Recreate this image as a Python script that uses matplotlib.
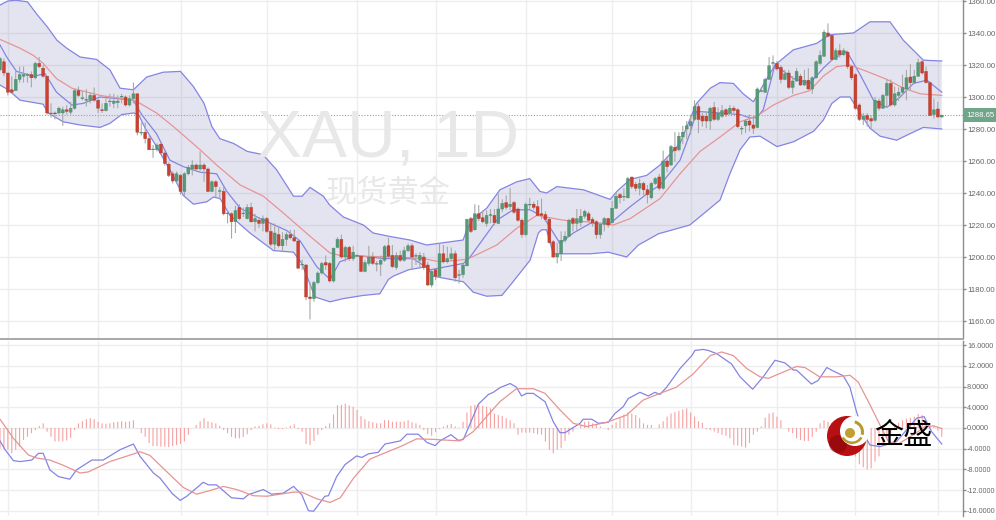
import numpy as np
import matplotlib
matplotlib.use("Agg")
import matplotlib.pyplot as plt
from matplotlib.patches import Circle, Wedge

plt.rcParams['font.family'] = ['Liberation Sans', 'Noto Sans CJK SC', 'DejaVu Sans']

# daily candles
opens = [1317,1322,1315,1304.5,1304,1311,1313,1313.5,1314,1312,1321,1318,1313,1289.5,1290,1290,1290,1292,1290.5,1293,
1304,1299,1298,1298,1301,1298,1292,1291.5,1297,1296,1296.5,1300,1300,1295,1299,1302,1277.5,1278,1274,1267,
1267,1270.5,1265,1258,1252,1247.5,1251,1241,1252,1255,1257.5,1255,1257.5,1255,1241,1247,1241,1241,1227,1227,
1222,1231,1227,1224,1231,1222,1223,1221,1224,1216,1208,1214,1207,1211,1214,1212,1210,1195,1195,1175,
1174,1184,1190,1196.5,1196,1185,1206,1211,1200,1206,1199,1200.5,1200.5,1191,1196,1200,1195.5,1195.5,1198,1207,
1201,1193.5,1201,1198,1204,1207,1200.5,1198,1200,1195,1182.5,1192,1188,1202,1197,1199,1202,1188.5,1189,1194.5,
1224,1217,1227,1224.5,1221,1226,1226,1221,1230,1234,1231.5,1234,1230,1223,1214,1232.5,1233,1231.5,1227,1226.5,
1223.5,1209.5,1200,1202,1210.5,1213,1224,1221,1221.5,1225.5,1227,1223.5,1222,1214,1220.5,1224,1221.5,1230.5,1239,1237.5,
1237,1250,1245.5,1243,1246,1242,1237,1246,1250,1243,1260,1257.5,1268.5,1267,1275,1280,1282,1286,1294,1288,
1288,1285,1293.5,1286,1288,1292,1290,1293,1292,1280,1282,1285,1282.5,1281,1303.5,1303,1311,1321,1321,1318.5,
1311,1315,1306,1310,1313,1307.5,1310.5,1305,1312,1321,1325.5,1340,1338.5,1323.5,1329,1326.5,1328,1319,1314,1295,
1286,1288.5,1286.5,1285.5,1297.5,1293,1301,1308.5,1295,1301,1303,1305,1312.5,1309,1313,1322,1316,1309,1289,1292.5,
1287.5]
closes = [1324,1315,1303,1303,1311,1314,1314,1314,1312,1321,1319,1313,1290,1290,1289.5,1293,1292,1291,1293,1304,
1301,1299.5,1298.5,1301,1298,1293,1291.5,1296,1297.5,1297.5,1297.5,1300.5,1295,1299,1302,1278,1278,1274,1267,1267.5,
1270,1265,1258.5,1251,1247.5,1252,1241,1252,1256,1257.5,1255,1257.5,1255,1241,1247,1244,1241.5,1227,1227.5,1222,
1229,1224,1227.5,1231,1222,1224,1221,1224,1216,1208,1215,1207,1211,1214,1212,1210,1193,1195.5,1175,1174,
1184,1190,1196,1195,1185,1205.5,1211,1200,1206,1199,1203,1201,1191,1196.5,1200,1196,1196,1198,1206.5,1200.5,
1194,1201,1198,1204,1207,1200,1201,1201,1193.5,1182.5,1191,1188,1202,1197,1199,1202,1187,1189,1195,1223.5,
1216,1227,1224,1222,1226,1226.5,1221.5,1230,1233.5,1231,1233,1228,1223,1214,1233,1233,1231,1226,1226,1223.5,
1209,1200,1202,1210.5,1213,1223,1221,1224,1225.5,1228.5,1223,1221.5,1214,1220.5,1224,1220,1230.5,1238,1237,1238,
1249,1244,1243,1246,1242,1239,1246,1249,1243,1260,1256.5,1269,1266.5,1275.5,1278,1282,1284.5,1294,1286,1285,
1285,1293,1286,1290,1291.5,1289,1293,1291.5,1281.5,1280.5,1285,1282.5,1280.5,1305,1304,1311,1319.5,1321.5,1317.5,1311,
1314.5,1306,1310,1316,1307.5,1310.5,1305,1312,1322,1326,1340.5,1338,1323.5,1329,1326.5,1329,1319,1312,1293,1286,
1288,1286,1285,1298,1293,1301,1308.5,1295,1302,1303,1306,1312,1309,1313,1321.5,1315,1309,1288.5,1292,1287.5,
1288.65]
highs = [1325,1324,1315,1313,1317,1319,1319,1315,1316,1322,1325,1320,1313,1296,1291,1294,1294,1295,1297,1305,
1306.5,1304,1305,1303,1306,1299,1296,1299,1302,1302,1301,1302,1301,1301,1309,1302,1284,1284,1276,1270,
1271,1272,1266,1259,1253.5,1253.5,1252,1253,1257.5,1260.5,1258.5,1266,1258.5,1256,1248,1248,1243.5,1244.5,1229,1228,
1232,1233,1231,1233,1234,1227,1225,1226,1225,1221,1221,1219,1215.5,1215.5,1217,1217,1211,1198.5,1195.5,1184,
1185,1191,1197,1201,1197,1206,1212.5,1214,1207,1207,1207,1201.5,1201,1198,1207,1203,1197.5,1201,1207.5,1212,
1207.5,1203,1204,1206.5,1208.5,1208.5,1202.5,1203,1202.5,1197,1192,1193,1208.5,1207.5,1206.5,1206,1204,1192,1196,1224,
1225,1233,1232.5,1229,1229,1230,1230,1239.5,1236,1238.5,1243,1235,1231,1224,1234,1237,1234.5,1235.5,1236.5,1228.5,
1225,1210.5,1209,1216,1216,1224,1225,1230,1230,1229.5,1228.5,1225,1223,1221.5,1225,1224.5,1235,1240.5,1240,1243,
1250,1250,1247,1249,1247,1245,1247,1250,1252,1266.5,1263,1270,1278,1278,1282,1285,1289,1298,1296,1290,
1291,1294,1297,1293.5,1295,1293,1295,1294.5,1293,1282,1286,1289,1288.5,1306,1306,1312,1325,1326,1322.5,1320,
1317,1317,1313,1318,1314.5,1317,1318,1313,1323,1329,1342,1346,1339,1330.5,1333,1330.5,1329,1320,1315,1296,
1290,1290,1288.5,1300,1299,1302,1311,1311,1306.5,1306,1314,1317,1320.5,1317,1324,1323,1319,1309.5,1299,1297,
1289]
lows = [1316,1313,1301,1302,1304,1309,1309,1309,1306,1311,1318,1312,1289,1287,1286,1289,1282,1289,1289,1292,
1300,1298,1294,1296,1297,1290,1290,1291,1294,1293,1293,1296,1294,1294,1296,1276,1276,1271,1267,1262,
1266,1264,1257,1250,1246,1247,1239,1238,1251,1251,1254,1254,1247,1240.5,1240.5,1237.5,1236,1226,1221,1211.5,
1215,1223,1225,1223.5,1221.5,1216,1218,1216,1215,1206.5,1204.5,1206,1203,1207,1211,1209.5,1193,1192,1173,1161,
1172,1183,1189,1192,1184,1184,1205.5,1199,1197,1197.5,1197.5,1200,1190.5,1190.5,1194.5,1195,1191,1188,1197,1199.5,
1193,1192,1197,1197,1203,1192,1195,1193,1192,1182,1181,1185.5,1187,1196,1196,1197.5,1184.5,1183.5,1187,1194,
1215,1216.5,1222.5,1221,1219,1221,1220,1220.5,1228,1229.5,1229.5,1227,1222,1212,1213,1229.5,1229.5,1225.5,1223.5,1222,
1208.5,1199.5,1196,1197.5,1209,1212.5,1216,1216,1219,1224,1222,1219,1211.5,1211.5,1216,1218.5,1221,1230,1233.5,1235,
1236.5,1242.5,1241,1238.5,1238.5,1233.5,1236,1245,1241.5,1242,1253,1257,1259.5,1266,1270.5,1273.5,1276.5,1285,1277.5,1281.5,
1280.5,1279.5,1285,1285,1287,1287.5,1289,1290,1280.5,1276.5,1277.5,1278.5,1277,1280.5,1303,1302.5,1311,1318.5,1316.5,1308.5,
1310.5,1305,1302,1309.5,1307,1307,1304.5,1302,1311.5,1320,1325,1337.5,1322.5,1323,1324.5,1325.5,1317.5,1310.5,1292,1285,
1282.5,1281.5,1280.5,1284.5,1291.5,1292.5,1294,1294,1294,1297.5,1301.5,1298,1304,1308,1312.5,1314,1308.5,1288,1286.5,1287,
1287]

# bollinger and short average, given at the bends of each line
upper_x = [0,2,4,7,9.3,12,14.5,17,20.4,24.6,28,30.6,34,37.4,41.6,46,49.3,52,54,56,59.5,63,67,70.5,74.8,77,79,82.4,84,87.5,92.6,95.1,99,104.5,108.7,118,119,120.6,124,127.4,131.7,135,137.6,139.3,141.9,148.7,155.5,157.2,160.6,164.8,168.2,173.3,177.5,181,183.5,186.9,189.4,192,197.5,202.2,208.1,211.5,217.5,221.7,226.8,230.2,235.3,240]
upper = [1357.5,1360,1360.5,1359.5,1352,1344,1335.5,1330.5,1325,1323.5,1317,1305.5,1304.5,1312.5,1315.5,1316,1306.5,1296,1281.5,1274,1271,1266,1264,1254.5,1238,1238,1243.5,1238,1232.5,1225,1220,1215,1213,1210.6,1207.5,1210.6,1217,1224,1230.4,1242,1247,1249,1241,1240,1244,1242,1236,1241,1248.5,1251,1257.5,1271,1296,1305.5,1309,1308.5,1302,1297,1320,1329.5,1333.5,1339,1340,1347,1347,1335.5,1323,1322.5]
lower_x = [0,2.1,5.1,11,12.3,16.1,20.4,25.5,28,31,34,35.3,37,39.9,43.3,46.7,49.3,52.7,54.4,56.1,58.6,63.7,69.7,74.8,76.9,80.3,84.1,87.5,92.6,96.8,99,100.2,104.1,108.7,110.4,118.1,120.6,124,127.9,130.4,135.1,137.2,138,139.3,141,143.6,150.4,155,159.7,162.7,167.8,175.8,183.5,186,188.6,191.1,193.7,198,202.2,207.3,209.8,212,214.1,216.6,219.2,221.7,224.3,228.5,231,235.3,240]
lower = [1307.5,1304.5,1298,1295.5,1290,1284.5,1282.5,1281,1283.5,1289,1290,1289,1280.5,1269,1254.5,1238.5,1233,1234.5,1237.5,1236.5,1226,1215,1204,1203,1196,1175,1172,1174,1176,1177,1186,1188,1192,1194,1188,1184.5,1178,1175.5,1176,1183.5,1198,1215,1217,1217,1202,1202,1202,1203,1200,1207.5,1214.5,1220,1235.6,1252,1267,1275,1275.5,1269,1272,1278.5,1285.5,1296,1300,1300,1290,1280.5,1275.5,1273,1276,1281,1280]
mid_x = [0,5.1,8.5,11,14.4,18.3,25.5,34,35.7,39.9,44.2,51,55.2,61.2,67.1,72.2,79,84.1,87.5,91.8,101.1,107.9,112.1,119,126.6,131.7,136.8,143.6,149.5,156.3,160.6,168.2,173.3,178.4,183.5,188.6,192.8,197.1,202.2,206.4,209.8,213.2,216.6,220.9,226,230.2,234.5,240]
mid = [1336,1330.5,1326,1321,1311.5,1305.5,1301,1298,1296,1290,1281.5,1267,1257.5,1245,1238,1227.5,1213,1202.5,1200.5,1200.5,1200,1199,1197,1198.5,1207.5,1218,1226,1223,1222,1220,1224,1236.5,1252,1266,1275,1284.5,1288,1295,1301,1304,1313,1319,1320,1316,1311,1305.5,1302,1301]
short_x = [0,1.7,4.2,8.5,11.5,14.4,18.3,21.2,25.5,34,36.1,39.9,43.3,46.7,51,55.2,57.8,61.2,66.3,73.1,76.5,80.7,84.1,86.6,90.9,97.7,105.3,109.6,118.1,119.8,126.6,130.8,135.1,138.5,142.7,146.1,150.4,155.5,160.6,165.7,168.2,170.7,173.3,175.8,177.5,183.5,188.6,191.1,192.8,194.5,197.5,202.2,206.4,209.8,212.4,215.8,219.2,222.6,226,229.4,232.8,236.2,240]
short = [1332.5,1325,1316,1313,1314.5,1303,1295,1296,1300,1298,1289,1277,1260.5,1256.5,1253,1252,1241,1230.5,1224,1216.5,1210,1194,1186,1197,1201,1199,1199,1192,1196,1200,1223,1229.5,1229.5,1225,1208.5,1215,1221,1221,1231.5,1241,1245,1252.5,1260.5,1277,1291,1290,1289,1287,1287,1292,1320,1311.5,1308.5,1318,1324,1328.5,1314,1298,1293.5,1300,1308.5,1310.5,1303]

# macd panel
hist = [-4,-4,-4.2,-4.9,-4.2,-3.6,-2.3,-1.7,-1,-0.4,0.4,0.9,-0.7,-1.7,-2.6,-2.6,-2.6,-2.4,-1.9,-0.4,
0.9,1.3,1.7,1.9,1.7,1.2,0.9,0.8,0.9,1.1,1.2,1.3,1.2,1.3,1.5,-0.1,-1,-1.7,-2.9,-3.5,
-3.5,-3.6,-3.6,-3.7,-3.5,-3.3,-3.1,-2.6,-1.3,0,0.6,1.3,1.9,1.3,1.1,0.9,0.4,-0.4,-1,-1.7,
-2,-2,-1.7,-1.2,-0.4,0.3,0.4,0.7,0.9,0.7,0.1,-0.2,-0.2,0.1,0.4,0.7,-0.2,-0.7,-3.1,-3.3,
-2.5,-1.3,-0.4,0.4,0.9,2.6,4.4,4.5,4.7,4.4,4.1,3.5,2.3,1.7,1.3,1.1,0.9,0.9,1.5,1.5,
1.2,1.2,1.2,1.3,1.5,1.1,0.9,0.6,-0.4,-1.2,-1.5,-0.8,-0.2,0.3,0.6,0.8,0.3,0.1,1.2,3,
4.3,4.5,4.5,4.3,4.1,3.8,2.8,2.5,2.3,1.9,1.5,0.9,-1.3,-0.9,-0.9,-0.9,-1,-1.2,-1.3,-2.6,
-4.2,-4.9,-4.2,-3.9,-2.5,-1.3,-0.7,0,0.6,1.2,1.3,0.9,0.6,0.3,0,-0.4,0.6,1.1,2,2.6,
3,2.8,2.5,1.9,0.9,0.6,0.6,0,0.7,1.3,2.2,2.8,3.1,3.3,3.6,3.8,3,2.2,1.3,1,
-0.2,-0.4,-0.7,-1,-1.3,-1.5,-2,-3.3,-3.4,-3.6,-3.8,-2.9,-1.3,-0.7,0.3,2,2.8,3,2.2,1.5,
0,-0.7,-1,-2,-2.3,-2.5,-2.5,-1.7,-0.7,0.9,1.5,1.2,1,0.5,-0.5,-1.5,-2.5,-4,-5.5,-7,
-7.6,-8,-7.8,-6.5,-5.5,-3,-2,-1,0.5,1,1.5,1.8,2,2.2,2.7,2.5,1.5,0.5,0.3,-0.5,
-1.7]
dif_x = [0,1.3,3.4,5.1,8.1,9.8,11,12.7,14.9,17.8,19.5,23.4,26.3,30.6,34,35.7,39.1,40.8,43.8,45.9,47.6,51.8,53.1,55.2,59,62,63.3,67.1,69.2,72.2,74.8,76.9,78.6,79.9,82.8,83.7,85.8,87.9,90.9,92.2,93.9,96.4,98.1,102,103.7,106.6,108.8,110.9,112.1,114.9,116.8,118.1,121.9,124.5,125.7,127.4,130,131.6,132.9,134.2,135.9,138.9,141,142.7,144,147.8,148.6,150.8,152.5,155,156.7,158.8,160.1,163.1,165.2,166.9,168.2,169.9,173.3,176.3,177.1,179.2,180.5,182.6,186.4,188.6,191.8,194.5,197.5,200,202.2,203,206.8,208.5,210.7,212.4,214.9,216.6,218.3,220,221.7,224.3,228.5,231,233.6,235.5,237.4,240]
dif = [-2.5,-4.2,-6.3,-6.5,-6.2,-4.9,-4.9,-8.1,-9.4,-9.9,-8.1,-6.2,-6.2,-4.2,-3.1,-5.5,-8.7,-9.7,-12.6,-14,-13.2,-10.5,-11,-11,-13.5,-13.7,-12.9,-11.9,-12.8,-12.6,-11.3,-12.9,-16,-16.1,-13.2,-13.1,-9.4,-7.1,-5.4,-5.7,-5,-4.7,-3.1,-2.5,-1.2,-1.2,-2.8,-3.4,-2.5,-1.3,-2.4,-2.2,4.6,6.5,6.9,7.8,8.6,7.9,6.2,6.7,6.7,5.1,1.2,-0.9,-0.9,0.9,1.7,1.7,0.9,1.1,2.8,4.1,5.7,6.9,6.2,6.9,6.5,7.9,11.5,14,15,15.2,15,14.4,12.4,9.9,7.5,9.9,13.1,12.6,11.2,11.2,8.5,9.2,11.7,11,10.1,7.9,3.1,-1,-3.3,-3.6,-2.6,-0.4,1.9,2.2,-0.7,-3.1]
dea_x = [0,3.4,7.2,9.3,12.7,16.1,20.4,22.5,28,35.7,38.2,41.6,46.7,50.1,53.5,56.9,60.3,64.6,68,74.8,76.9,80.7,84.1,86.7,90.1,94.3,102,106.2,110.5,117.2,120.6,127.4,131.6,135.9,138.9,142.7,146.1,149.5,154.6,159.7,163.9,168.2,172.4,176.7,181,183.9,186.9,190.3,193.7,195.8,203,205.1,208.9,213.2,216.6,218.7,221.3,224.7,226.4,228.9,232.8,235.8,237.9,240]
dea = [1.7,-2,-5.2,-5.8,-6.2,-7.2,-8.7,-8.5,-6.5,-4.6,-5.3,-7.8,-11.5,-12.8,-12.1,-11.3,-11.9,-13.1,-13.2,-12.4,-12.4,-13.7,-14.4,-13.5,-9.7,-6,-3.6,-2.1,-2.2,-2.5,-0.7,5.1,7.6,7.6,6.7,3.5,0.9,0.3,1.1,2.5,5.4,6.7,7.9,10.5,14,14.7,14,11.5,9.9,9.6,11.9,11.7,9.9,9.9,10.2,8.9,5.1,-0.1,-2.6,-3.1,-1.3,0.3,0.4,-0.1]

last_price = 1288.65
price_ticks = [1160,1180,1200,1220,1240,1260,1280,1300,1320,1340,1360]
macd_ticks = [-16,-12,-8,-4,0,4,8,12,16]
time_ticks = [2,25,46,68,91,111,134,156,176,198,218,239]

W, H = 996, 520
GRID = '#eeeeee'
BLUE = '#8484e4'
RED = '#e79494'
AXIS = '#8c8c8c'
TICKTXT = '#666666'

fig = plt.figure(figsize=(W / 100, H / 100), dpi=100, facecolor='white')
ax1 = fig.add_axes([0, 1 - 338 / H, 963 / W, 338 / H])
ax2 = fig.add_axes([0, 1 - 516 / H, 963 / W, 175 / H])

x = np.arange(len(opens))

for ax, size in ((ax1, 5.7), (ax2, 5.2)):
    ax.set_xlim(0, 963 / 3.924)
    ax.set_xticks(time_ticks)
    ax.tick_params(axis='x', length=0, labelbottom=False)
    ax.grid(True, color=GRID, lw=1)
    ax.set_axisbelow(True)
    ax.yaxis.tick_right()
    ax.tick_params(axis='y', length=2.5, width=1, color=AXIS, labelcolor=TICKTXT,
                   labelsize=size, pad=0.4)
    for s in ('top', 'left', 'bottom'):
        ax.spines[s].set_visible(False)
    ax.spines['right'].set_color(AXIS)
    ax.spines['right'].set_linewidth(1)
    ax.patch.set_alpha(0)

# price panel
ax1.set_ylim(1340 - (338 - 33) / 1.6, 1340 + 33 / 1.6)
ax1.set_yticks(price_ticks)
ax1.set_yticklabels(['%.2f' % t for t in price_ticks])

fig.text(388 / W, 1 - 140 / H, 'XAU, 1D', color='#e8e8e8', fontsize=48.5,
         ha='center', va='center', zorder=0.5)
fig.text(388 / W, 1 - 194 / H, '现货黄金', color='#e8e8e8', fontsize=22.5,
         ha='center', va='center', zorder=0.5)

ax1.fill(np.r_[upper_x, lower_x[::-1]], np.r_[upper, lower[::-1]],
         color='#5a5aa8', alpha=0.16, lw=0, zorder=1)
ax1.plot(upper_x, upper, color=BLUE, lw=0.9, zorder=2)
ax1.plot(lower_x, lower, color=BLUE, lw=0.9, zorder=2)
ax1.plot(short_x, short, color=BLUE, lw=0.9, zorder=2)
ax1.plot(mid_x, mid, color=RED, lw=0.9, zorder=2)
ax1.axhline(last_price, color='#7fae95', lw=0.8, ls=(0, (1, 1.5)), zorder=2)

o = np.array(opens)
c = np.array(closes)
up = c >= o
wicks = ax1.vlines(x, lows, highs, color='#a8a8a8', lw=0.8, zorder=3)
wicks.set_snap(False)
bars_up = ax1.bar(x[up], (c - o)[up], bottom=o[up], width=0.74, color='#559a78',
                  edgecolor='#4a8a6a', lw=0.3, zorder=4)
bars_dn = ax1.bar(x[~up], (o - c)[~up], bottom=c[~up], width=0.74, color='#cf3f2e',
                  edgecolor='#a33d30', lw=0.3, zorder=4)
for b in list(bars_up) + list(bars_dn):
    b.set_snap(False)

ax1.text(963 / 3.924 + 0.9, last_price, '%.2f' % last_price, color='white', fontsize=5.6,
         va='center', ha='left', zorder=6, clip_on=False,
         bbox=dict(boxstyle='square,pad=0.45', fc='#6fa588', ec='none'))

# macd panel
ax2.set_ylim((428 - 516) / 5.17, (428 - 341) / 5.17)
ax2.set_yticks(macd_ticks)
ax2.set_yticklabels(['%.4f' % t for t in macd_ticks])
hist_bars = ax2.vlines(x, 0, hist, color='#f7a0a0', lw=0.8, zorder=2)
hist_bars.set_snap(False)
ax2.plot(dif_x, dif, color=BLUE, lw=0.9, zorder=3)
ax2.plot(dea_x, dea, color=RED, lw=0.9, zorder=3)

# overlay in pixels: panel separator and the logo
over = fig.add_axes([0, 0, 1, 1])
over.set_xlim(0, W)
over.set_ylim(H, 0)
over.axis('off')
over.plot([0, 963], [339, 339], color='#a8a8a8', lw=1.4)
over.add_patch(Circle((847, 436), 20, fc='#b80f12', ec='none'))
over.add_patch(Circle((838, 444), 9, fc='#7d0508', ec='none', alpha=0.5))
over.add_patch(Circle((855, 431), 15, fc='white', ec='none'))
over.add_patch(Wedge((852, 432), 12, 30, 150, width=2.5, fc='#b79a2e', ec='none'))
over.add_patch(Wedge((852, 432), 12, 285, 15, width=3, fc='#b79a2e', ec='none'))
over.add_patch(Circle((850, 433), 5, fc='#bfa030', ec='none'))
over.text(903, 436, '金盛', family=['Noto Sans CJK SC'], color='black', fontsize=21,
          ha='center', va='center')

fig.savefig('out.png', dpi=100)
